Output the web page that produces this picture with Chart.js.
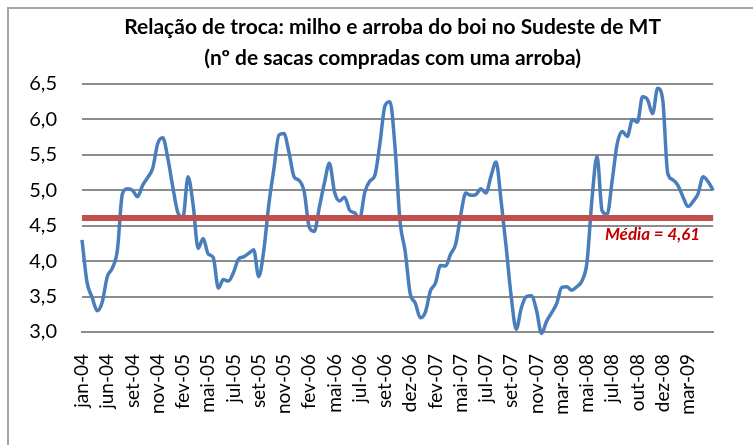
<!DOCTYPE html>
<html>
<head>
<meta charset="utf-8">
<script src="https://cdn.jsdelivr.net/npm/chart.js@4/dist/chart.umd.min.js"></script>
<style>
  html, body { margin: 0; padding: 0; background: #fff; }
  #wrap { position: relative; width: 753px; height: 445px; overflow: hidden; background: #fff; }
  #moldura { position: absolute; left: 7px; top: 7px; width: 790px; height: 490px; border: 2px solid #a5a5a5; box-sizing: border-box; }
  canvas { position: absolute; left: 0; top: 0; }
</style>
</head>
<body>
<div id="wrap">
  <div id="moldura"></div>
  <canvas id="graficoTroca" width="753" height="445"></canvas>
</div>
<script>
const titulo = [
  "Relação de troca: milho e arroba do boi no Sudeste de MT",
  "(nº de sacas compradas com uma arroba)"
];

// rótulos do eixo x (um a cada 5 pontos da série)
const rotulosX = ["jan-04", "jun-04", "set-04", "nov-04", "fev-05", "mai-05", "jul-05", "set-05",
  "nov-05", "fev-06", "mai-06", "jul-06", "set-06", "dez-06", "fev-07", "mai-07", "jul-07",
  "set-07", "nov-07", "mar-08", "mai-08", "jul-08", "out-08", "dez-08", "mar-09"];
const passoRotulo = 5;

// sacas de milho compradas com uma arroba
const relacao = [
  4.30, 3.70, 3.49, 3.30, 3.42, 3.78, 3.90, 4.15, 4.95, 5.02,
  5.00, 4.91, 5.07, 5.18, 5.31, 5.66, 5.74, 5.45, 5.04, 4.68,
  4.62, 5.19, 4.80, 4.18, 4.32, 4.10, 4.05, 3.62, 3.74, 3.72,
  3.84, 4.03, 4.06, 4.11, 4.16, 3.78, 4.15, 4.80, 5.30, 5.78,
  5.80, 5.53, 5.19, 5.14, 4.98, 4.48, 4.42, 4.76, 5.10, 5.38,
  4.98, 4.85, 4.90, 4.72, 4.68, 4.60, 4.97, 5.13, 5.21, 5.66,
  6.19, 6.25, 5.60, 4.55, 4.14, 3.54, 3.41, 3.20, 3.28, 3.58,
  3.69, 3.94, 3.93, 4.10, 4.24, 4.65, 4.96, 4.93, 4.94, 5.02,
  4.96, 5.20, 5.40, 4.85, 4.20, 3.50, 3.04, 3.34, 3.50, 3.51,
  3.31, 2.98, 3.15, 3.27, 3.40, 3.63, 3.64, 3.59, 3.64, 3.72,
  3.98, 4.88, 5.48, 4.71, 4.66, 5.14, 5.66, 5.83, 5.76, 6.00,
  5.96, 6.32, 6.28, 6.08, 6.44, 6.28, 5.24, 5.15, 5.07, 4.91,
  4.77, 4.84, 4.95, 5.19, 5.12, 5.00
];

const media = 4.61;

const fonte = "Lato, 'Open Sans', sans-serif";
const semanas = relacao.map((_, i) => i);
const linhaMedia = relacao.map(() => media);

const virgula = (v, casas) => v.toFixed(casas).replace(".", ",");

const pluginTitulo = {
  id: "tituloDuasLinhas",
  afterDraw(chart) {
    const { ctx, chartArea } = chart;
    ctx.save();
    ctx.font = "bold 21px " + fonte;
    ctx.fillStyle = "#000";
    ctx.textAlign = "center";
    ctx.textBaseline = "middle";
    const cx = (chartArea.left + chartArea.right) / 2 - 5;
    ctx.fillText(titulo[0], cx, 27);
    ctx.fillText(titulo[1], cx, 58);
    ctx.restore();
  }
};

const pluginMedia = {
  id: "rotuloMedia",
  afterDatasetsDraw(chart) {
    const { ctx, chartArea, scales } = chart;
    ctx.save();
    ctx.font = "italic bold 17px " + fonte;
    ctx.fillStyle = "#C00000";
    ctx.textAlign = "right";
    ctx.textBaseline = "middle";
    ctx.fillText("Média = " + virgula(media, 2), chartArea.right - 13, scales.y.getPixelForValue(media) + 17);
    ctx.restore();
  }
};

new Chart(document.getElementById("graficoTroca"), {
  type: "line",
  data: {
    labels: semanas,
    datasets: [
      {
        label: "Média",
        data: linhaMedia,
        borderColor: "#C0504D",
        borderWidth: 6,
        pointRadius: 0,
        fill: false
      },
      {
        label: "Relação de troca",
        data: relacao,
        borderColor: "#4A7EBB",
        borderWidth: 3.5,
        pointRadius: 0,
        fill: false,
        cubicInterpolationMode: "monotone",
        clip: false
      }
    ]
  },
  options: {
    responsive: false,
    animation: false,
    layout: { padding: { top: 84, right: 8, left: 0, bottom: 0 } },
    plugins: {
      legend: { display: false },
      tooltip: { enabled: false }
    },
    scales: {
      x: {
        offset: false,
        grid: { display: false, drawTicks: false },
        border: { display: true, color: "#8c8c8c", width: 2 },
        ticks: {
          autoSkip: false,
          minRotation: 90,
          maxRotation: 90,
          padding: 22,
          color: "#000",
          font: { family: fonte, size: 19 },
          callback: (v, i) => (i % passoRotulo === 0 ? rotulosX[i / passoRotulo] : "")
        },
        afterFit: (s) => { s.height = 113; }
      },
      y: {
        min: 3,
        max: 6.5,
        grid: { color: "#8c8c8c", lineWidth: 2, drawTicks: false },
        border: { display: false },
        ticks: {
          stepSize: 0.5,
          padding: 25,
          color: "#000",
          font: { family: fonte, size: 20 },
          callback: (v) => virgula(v, 1)
        },
        afterFit: (s) => { s.width = 82; }
      }
    }
  },
  plugins: [pluginTitulo, pluginMedia]
});
</script>
</body>
</html>
